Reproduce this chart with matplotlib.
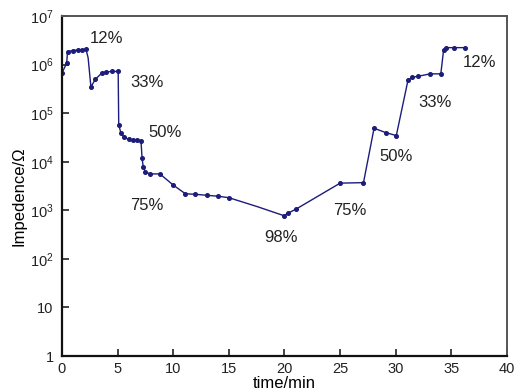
import numpy as np
import matplotlib
matplotlib.use("Agg")
import matplotlib.pyplot as plt
from matplotlib.ticker import NullLocator

plt.rcParams['font.family'] = ['Liberation Sans', 'DejaVu Sans']
plt.rcParams['mathtext.default'] = 'regular'

# time (min) and log10 of impedance
t = [0.0, 0.42, 0.5, 1.0, 1.4, 1.8, 2.15, 2.35, 2.6, 3.0, 3.6, 4.0, 4.5, 5.05,
     5.1, 5.3, 5.6, 6.0, 6.4, 6.7, 7.1, 7.2, 7.3, 7.5, 7.9, 8.8,
     10.0, 11.1, 12.0, 13.0, 14.05, 15.0, 17.5, 19.95, 20.3, 21.0, 25.0, 27.1,
     28.05, 29.1, 30.05, 31.1, 31.5, 32.0, 33.1, 34.05, 34.3, 34.5, 35.2, 36.2]
logz = [5.83, 6.03, 6.27, 6.29, 6.30, 6.30, 6.32, 6.14, 5.54, 5.70, 5.83, 5.85, 5.86, 5.86,
        4.76, 4.59, 4.50, 4.46, 4.45, 4.45, 4.43, 4.07, 3.90, 3.79, 3.75, 3.75,
        3.52, 3.34, 3.33, 3.31, 3.29, 3.26, 3.08, 2.89, 2.94, 3.02, 3.56, 3.57,
        4.69, 4.60, 4.54, 5.68, 5.74, 5.76, 5.81, 5.81, 6.30, 6.35, 6.35, 6.35]
z = [10 ** v for v in logz]
no_marker = [7, 32]
marked = [i for i in range(len(t)) if i not in no_marker]

# humidity labels: text, time, log10 position
labels = ['12%', '33%', '50%', '75%', '98%', '75%', '50%', '33%', '12%']
lab_t = [2.5, 6.1, 7.8, 6.1, 18.2, 24.4, 28.5, 32.0, 36.0]
lab_logz = [6.53, 5.64, 4.61, 3.09, 2.45, 2.99, 4.10, 5.23, 6.05]

yticks = [1, 10, 1e2, 1e3, 1e4, 1e5, 1e6, 1e7]
ytick_labels = ['1', '10', '$10^2$', '$10^3$', '$10^4$', '$10^5$', '$10^6$', '$10^7$']

fig = plt.figure(figsize=(5.14, 3.92), dpi=100)
ax = fig.add_axes([0.1206, 0.0918, 0.8658, 0.8672])

ax.plot(t, z, color='#1c1c7a', linewidth=1.0, marker='o', markersize=2.6,
        markevery=marked)

for s, x, y in zip(labels, lab_t, lab_logz):
    ax.text(x, 10 ** y, s, fontsize=12, color='#222222', va='center', ha='left')

ax.set_yscale('log')
ax.set_xlim(0, 40)
ax.set_ylim(1, 1e7)
ax.set_xticks([0, 5, 10, 15, 20, 25, 30, 35, 40])
ax.set_yticks(yticks)
ax.set_yticklabels(ytick_labels)
ax.yaxis.set_minor_locator(NullLocator())
ax.tick_params(direction='in', length=5, width=1.2, labelsize=10.5,
               colors='#222222', top=False, right=False)
ax.tick_params(axis='y', pad=6)
ax.tick_params(axis='x', pad=4)

for side in ['left', 'bottom']:
    ax.spines[side].set_linewidth(1.6)
    ax.spines[side].set_color('#111111')
for side in ['top', 'right']:
    ax.spines[side].set_linewidth(1.4)
    ax.spines[side].set_color('#555555')

ax.set_xlabel('time/min', fontsize=12, labelpad=0)
ax.set_ylabel('Impedence/Ω', fontsize=12)
ax.yaxis.set_label_coords(-0.08, 0.47)

fig.savefig('out.png', dpi=100)
